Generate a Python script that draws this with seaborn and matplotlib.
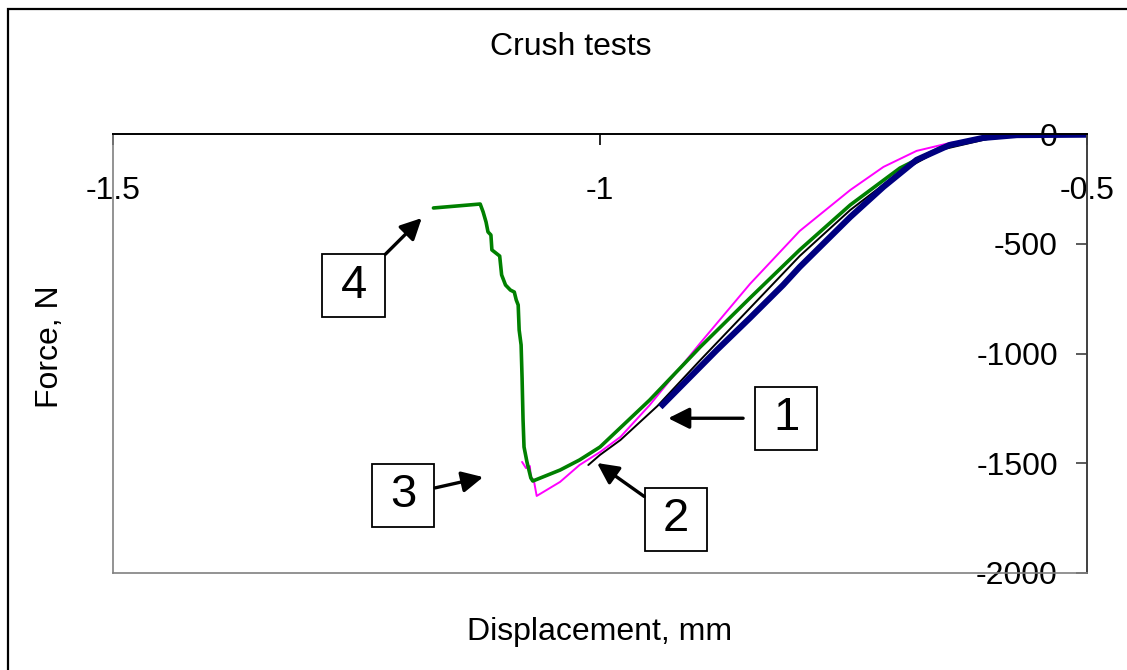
import matplotlib
matplotlib.use("Agg")
import matplotlib.pyplot as plt
import seaborn as sns
from matplotlib.patches import Rectangle

# ==========================================
# Data
# ==========================================
# 1 - navy, thick
disp_1 = [-0.938, -0.880, -0.846, -0.812, -0.795, -0.743, -0.709, -0.675,
          -0.641, -0.607, -0.572, -0.497]
force_1 = [-1244, -984, -838, -688, -606, -378, -241, -118, -50, -18, -5, -3]

# 2 - black, thin
disp_2 = [-1.012, -1.000, -0.979, -0.941, -0.897, -0.846, -0.795, -0.743,
          -0.692, -0.651, -0.589, -0.497]
force_2 = [-1508, -1462, -1394, -1239, -1030, -793, -556, -346, -173, -73, -9, 0]

# 3 - magenta, thin
disp_3 = [-1.080, -1.076, -1.072, -1.071, -1.068, -1.065, -1.041, -1.021,
          -1.000, -0.979, -0.949, -0.897, -0.846, -0.795, -0.743, -0.709,
          -0.675, -0.641, -0.589, -0.497]
force_3 = [-1494, -1522, -1513, -1563, -1576, -1649, -1585, -1508, -1449,
           -1380, -1235, -952, -683, -442, -255, -150, -77, -41, -9, 0]

# 4 - green
disp_4 = [-1.171, -1.123, -1.120, -1.117, -1.115, -1.112, -1.111, -1.103,
          -1.101, -1.097, -1.092, -1.088, -1.086, -1.084, -1.083, -1.081,
          -1.080, -1.079, -1.078, -1.075, -1.071, -1.069, -1.041, -1.021,
          -1.000, -0.949, -0.897, -0.846, -0.795, -0.743, -0.692, -0.651,
          -0.610, -0.569, -0.495]
force_4 = [-337, -319, -355, -401, -446, -460, -528, -556, -642, -688, -711,
           -720, -756, -779, -893, -961, -1112, -1303, -1426, -1494, -1567,
           -1581, -1531, -1485, -1426, -1212, -970, -747, -528, -323, -155,
           -64, -23, -5, 0]

x_ticks = [-1.5, -1.0, -0.5]
x_tick_labels = ["-1.5", "-1", "-0.5"]
y_ticks = [0, -500, -1000, -1500, -2000]
y_tick_labels = ["0", "-500", "-1000", "-1500", "-2000"]

# callout label, arrow tip, box centre
callouts = [
    ("1", (-0.930, -1295), (-0.809, -1295)),
    ("2", (-1.003, -1499), (-0.922, -1754)),
    ("3", (-1.120, -1563), (-1.202, -1645)),
    ("4", (-1.183, -383), (-1.253, -692)),
]
BOX_W = 0.064   # callout box size in data units (about 63 px square)
BOX_H = 287

# ==========================================
# Figure
# ==========================================
sns.set_style("white")
plt.rcParams["font.family"] = ["Liberation Sans", "DejaVu Sans"]
plt.rcParams["text.color"] = "black"
plt.rcParams["xtick.labelcolor"] = "black"
plt.rcParams["ytick.labelcolor"] = "black"

fig = plt.figure(figsize=(11.27, 6.70), dpi=100)
ax = fig.add_axes([113 / 1127, 1 - 573 / 670, 974 / 1127, 439 / 670])

sns.lineplot(x=disp_2, y=force_2, estimator=None, sort=False,
             color="black", linewidth=1.4, ax=ax)
sns.lineplot(x=disp_3, y=force_3, estimator=None, sort=False,
             color="#FF00FF", linewidth=1.4, ax=ax)
sns.lineplot(x=disp_4, y=force_4, estimator=None, sort=False,
             color="#008000", linewidth=2.6, ax=ax)
sns.lineplot(x=disp_1, y=force_1, estimator=None, sort=False,
             color="#000080", linewidth=4.4, ax=ax, solid_capstyle="butt")

ax.set_xlim(-1.5, -0.5)
ax.set_ylim(-2000, 0)

# x axis sits on the top (force = 0), labels hang below it
ax.xaxis.tick_top()
ax.set_xticks(x_ticks)
ax.set_xticklabels(x_tick_labels)
ax.tick_params(axis="x", direction="in", length=8, width=1.2, color="black",
               labelsize=23, labelcolor="black", pad=-52)

# y axis sits on the right (displacement = -0.5), labels to its left
ax.yaxis.tick_right()
ax.set_yticks(y_ticks)
ax.set_yticklabels(y_tick_labels)
ax.tick_params(axis="y", direction="in", length=8, width=1.2, color="#404040",
               labelsize=23, labelcolor="black", pad=-21)
for lab in ax.get_yticklabels():
    lab.set_horizontalalignment("right")

for side in ["left", "bottom"]:
    ax.spines[side].set_color("#808080")
    ax.spines[side].set_linewidth(1.2)
ax.spines["top"].set_color("black")
ax.spines["top"].set_linewidth(1.4)
ax.spines["right"].set_color("#404040")
ax.spines["right"].set_linewidth(1.4)
ax.set_xlabel("")
ax.set_ylabel("")

for label, tip, box in callouts:
    rect = Rectangle((box[0] - BOX_W / 2, box[1] - BOX_H / 2), BOX_W, BOX_H,
                     fc="white", ec="black", lw=1.3, zorder=5)
    ax.add_patch(rect)
    ax.annotate(
        label,
        xy=tip, xytext=box, textcoords="data",
        ha="center", va="center", fontsize=34, color="black",
        arrowprops=dict(arrowstyle="-|>", color="black", lw=2.4,
                        mutation_scale=32, patchA=rect,
                        shrinkA=8 if label == "1" else 0, shrinkB=0),
        zorder=6,
    )

fig.text(571 / 1127, 1 - 47 / 670, "Crush tests", ha="center", va="center",
         fontsize=23)
fig.text(600 / 1127, 1 - 632 / 670, "Displacement, mm", ha="center",
         va="center", fontsize=23)
fig.text(50 / 1127, 1 - 347 / 670, "Force, N", ha="center", va="center",
         rotation=90, fontsize=23)

# outer chart frame
fig.patches.append(Rectangle((8 / 1127, -0.1), 1.2, 1.1 - 9 / 670,
                             transform=fig.transFigure, fill=False,
                             ec="black", lw=1.6))

fig.savefig("out.png", dpi=100)
plt.close(fig)
